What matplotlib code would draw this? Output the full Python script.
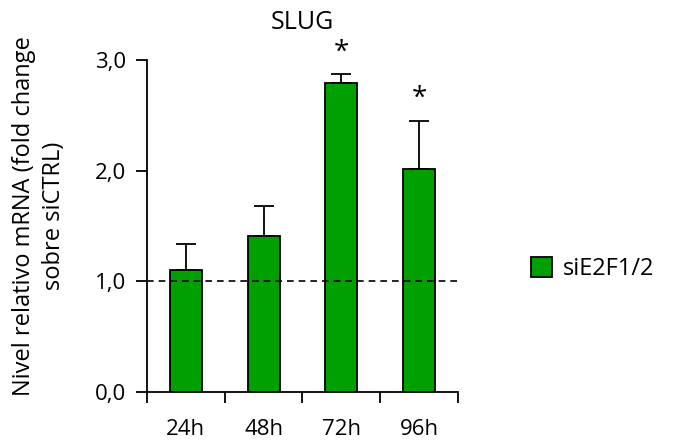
import matplotlib
matplotlib.use("Agg")
import matplotlib.pyplot as plt
import numpy as np

plt.rcParams["font.family"] = ["Open Sans", "DejaVu Sans"]

# datos
categorias = ["24h", "48h", "72h", "96h"]
valores = [1.10, 1.41, 2.79, 2.01]
errores = [0.24, 0.27, 0.08, 0.44]
significativo = [False, False, True, True]
serie = "siE2F1/2"
verde = "#00A000"

fig = plt.figure(figsize=(6.95, 4.41), dpi=100)
ax = fig.add_axes([0.2115, 0.1118, 0.4475, 0.7522])

x = np.arange(len(categorias))
ax.bar(x, valores, width=0.41, color=verde, edgecolor="black", linewidth=1.3,
       label=serie, zorder=2)
ax.errorbar(x, valores, yerr=[np.zeros(len(errores)), errores], fmt="none",
            ecolor="black", elinewidth=1.3, capsize=7, capthick=1.3, zorder=1)
ax.axhline(1.0, color="black", linestyle=(0, (4, 3)), linewidth=1.2, zorder=3)

for xi, v, e, s in zip(x, valores, errores, significativo):
    if s:
        ax.text(xi, v + e + 0.07, "*", ha="center", va="bottom", fontsize=20,
                clip_on=False)

ax.set_xlim(-0.5, 3.5)
ax.set_ylim(0, 3.0)
ax.set_yticks([0, 1, 2, 3])
ax.set_yticklabels(["0,0", "1,0", "2,0", "3,0"], fontsize=16)
ax.set_xticks(x)
ax.set_xticklabels(categorias, fontsize=16)
ax.set_xticks(np.arange(-0.5, 4.0, 1.0), minor=True)
ax.tick_params(axis="x", which="major", length=0, pad=20)
ax.tick_params(axis="x", which="minor", length=8, width=1.3, direction="out")
ax.tick_params(axis="y", length=8, width=1.3, direction="out", pad=7)
ax.spines["top"].set_visible(False)
ax.spines["right"].set_visible(False)
ax.spines["left"].set_linewidth(1.3)
ax.spines["bottom"].set_linewidth(1.3)

ax.set_title("SLUG", fontsize=18, pad=22)
ax.set_ylabel("Nivel relativo mRNA (fold change\nsobre siCTRL)", fontsize=17,
              linespacing=1.35)
ax.yaxis.set_label_coords(-0.26, 0.53)

fig.legend(loc="center left", bbox_to_anchor=(0.733, 0.39), frameon=False,
           fontsize=17, handlelength=0.9, handleheight=0.9, handletextpad=0.45)

fig.savefig("out.png", dpi=100)
